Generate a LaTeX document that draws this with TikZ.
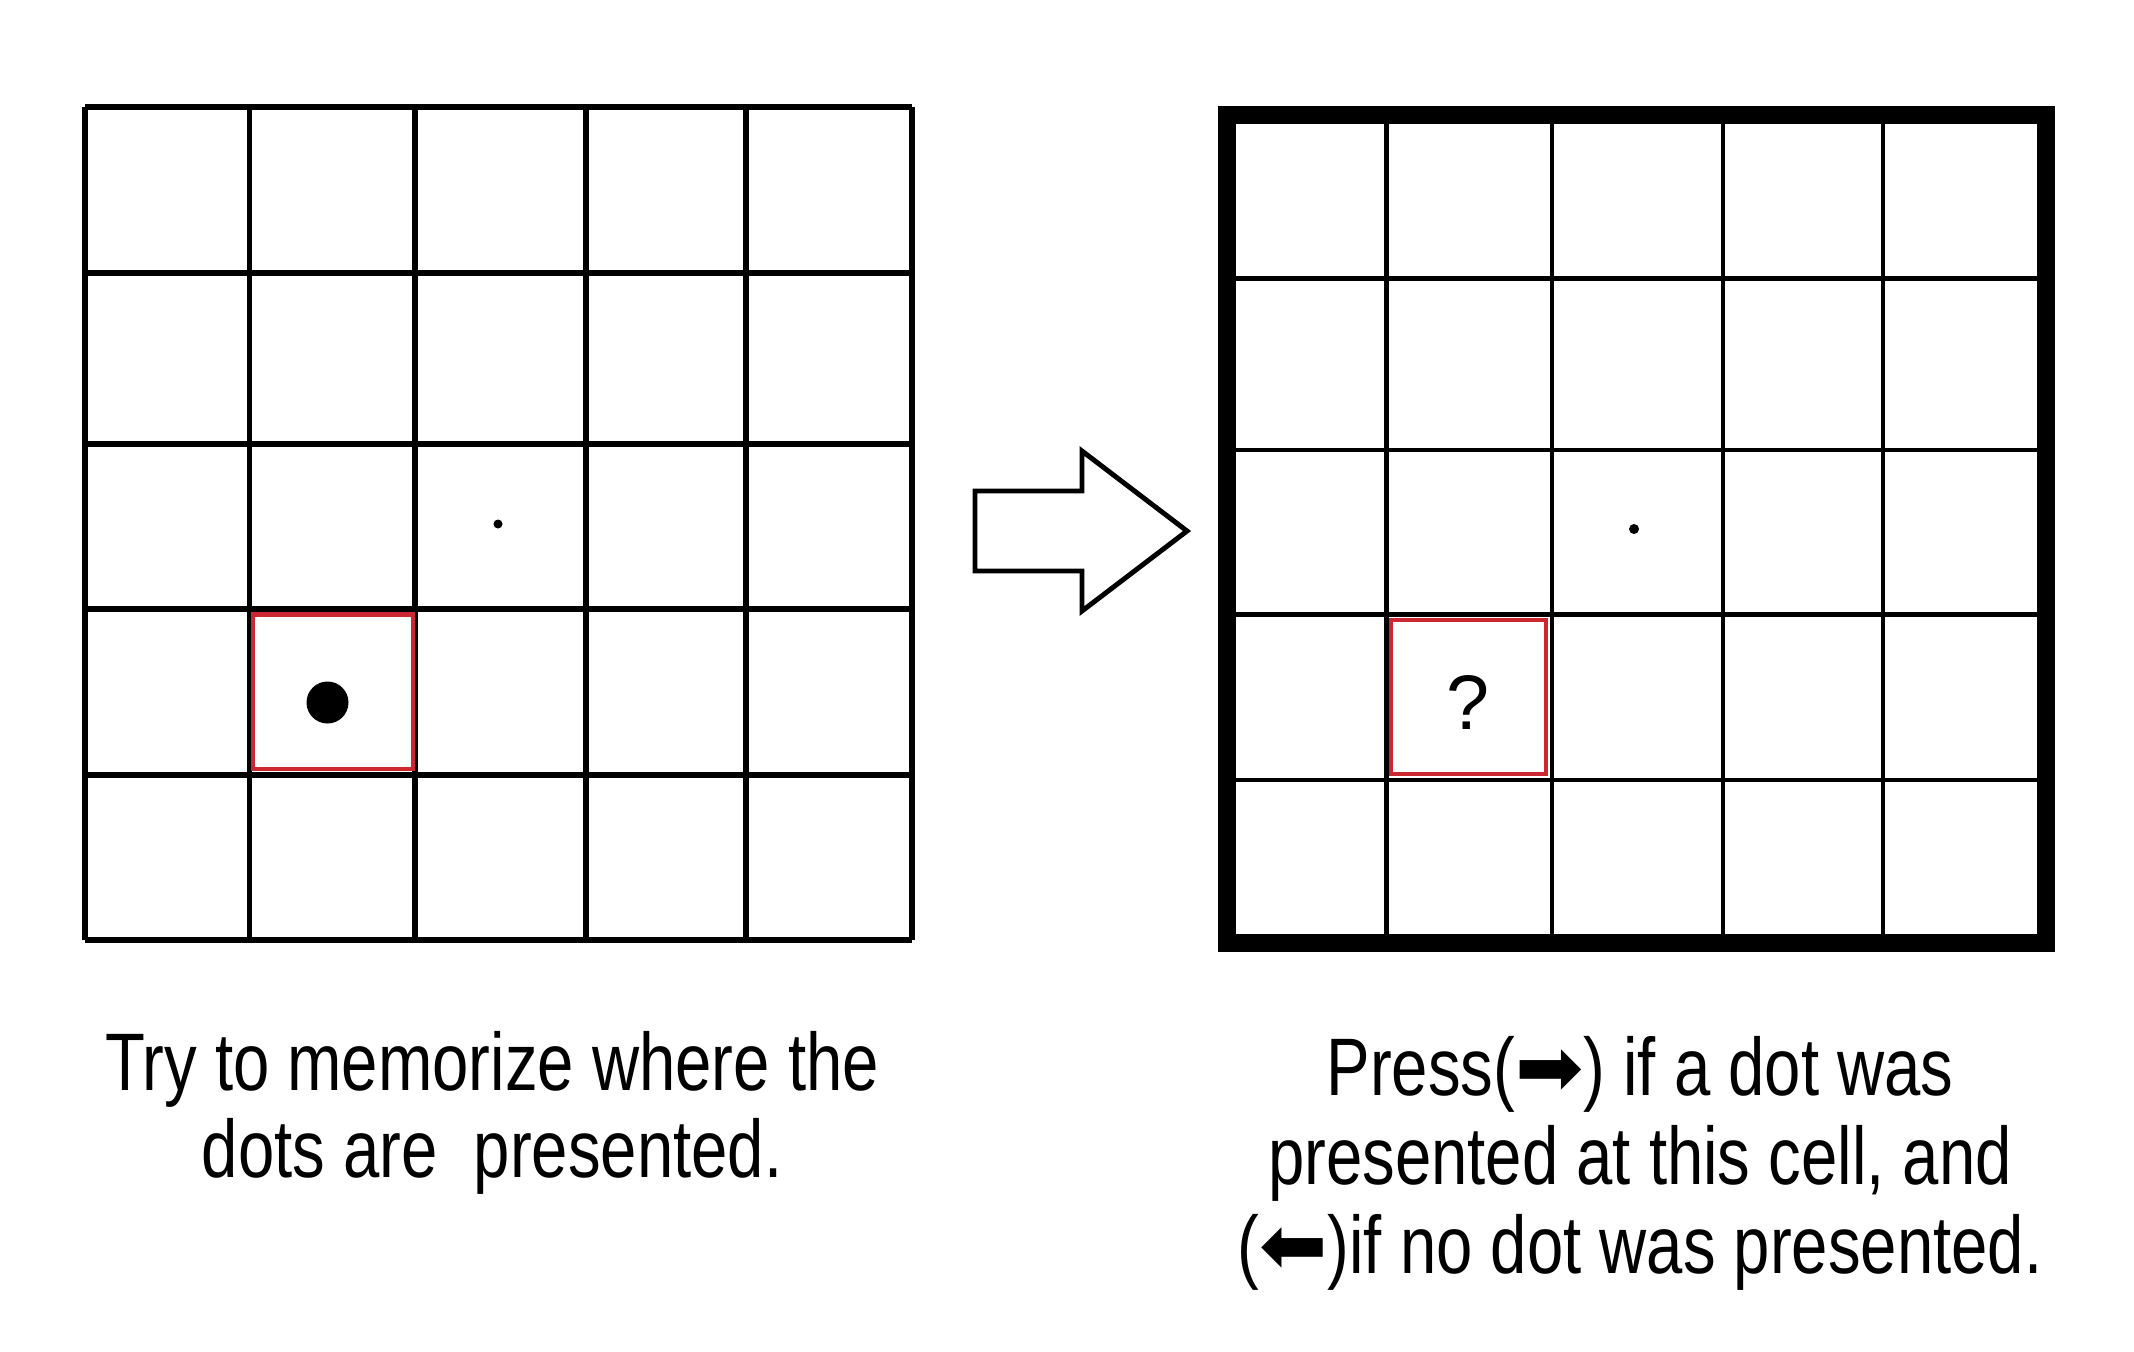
\documentclass[tikz,border=0pt]{standalone}
\usepackage{fontspec}
\setmainfont[FakeStretch=0.8]{Liberation Sans}
\newfontfamily\plainfont{Liberation Sans}
\newfontfamily\symfont{DejaVu Sans}
\usepackage{tikz}
\usetikzlibrary{positioning}
\definecolor{cellred}{RGB}{204,40,50}

\begin{document}
\begin{tikzpicture}[x=0.01cm, y=-0.01cm,
    gridline/.style={line width=1.7pt, line cap=square},
    innerline/.style={line width=1.4pt},
    frame/.style={line width=5.2pt, line join=miter},
    target/.style={draw=cellred, line width=1.4pt},
    caption/.style={align=center, inner sep=0pt, anchor=north}]
  \useasboundingbox (0,0) rectangle (2134,1351);

  %left grid
  \foreach \x in {85,249.5,415,586,746,912}
    \draw[gridline] (\x,107) -- (\x,939.5);
  \foreach \y in {107,273,444,609,775,939.5}
    \draw[gridline] (85,\y) -- (912,\y);
  \draw[target] (253,614.5) rectangle (413,769);
  \fill (327.5,702.5) circle[radius=21];
  \fill (498,524) circle[radius=4.5];

  %block arrow
  \draw[line width=1.4pt, line join=miter] (975,491) -- (1082,491) -- (1082,451)
    -- (1187,531) -- (1082,611) -- (1082,571) -- (975,571) -- cycle;

  %right grid
  \foreach \x in {1386.5,1552,1723,1883}
    \draw[innerline] (\x,115) -- (\x,943);
  \foreach \y in {278.5,450,614.5,780}
    \draw[innerline] (1227,\y) -- (2046,\y);
  \draw[frame] (1227,115) rectangle (2046,943);
  \draw[target] (1391,620) rectangle (1546,774);
  \fill (1634,529) circle[radius=5];
  \node[inner sep=0pt, font=\plainfont\fontsize{22}{22}\selectfont] (quest) at (1468,702) {?};

  %captions
  \node[caption, font=\fontsize{23.2}{24.5}\selectfont] (memo) at (492,1031)
    {Try to memorize where the\\dots are\ \ presented.};
  \node[caption, font=\fontsize{23.2}{25.2}\selectfont] (press) at (1640,1036)
    {Press({\symfont ➡}) if a dot was\\presented at this cell, and\\({\symfont ⬅})if no dot was presented.};
\end{tikzpicture}
\end{document}
